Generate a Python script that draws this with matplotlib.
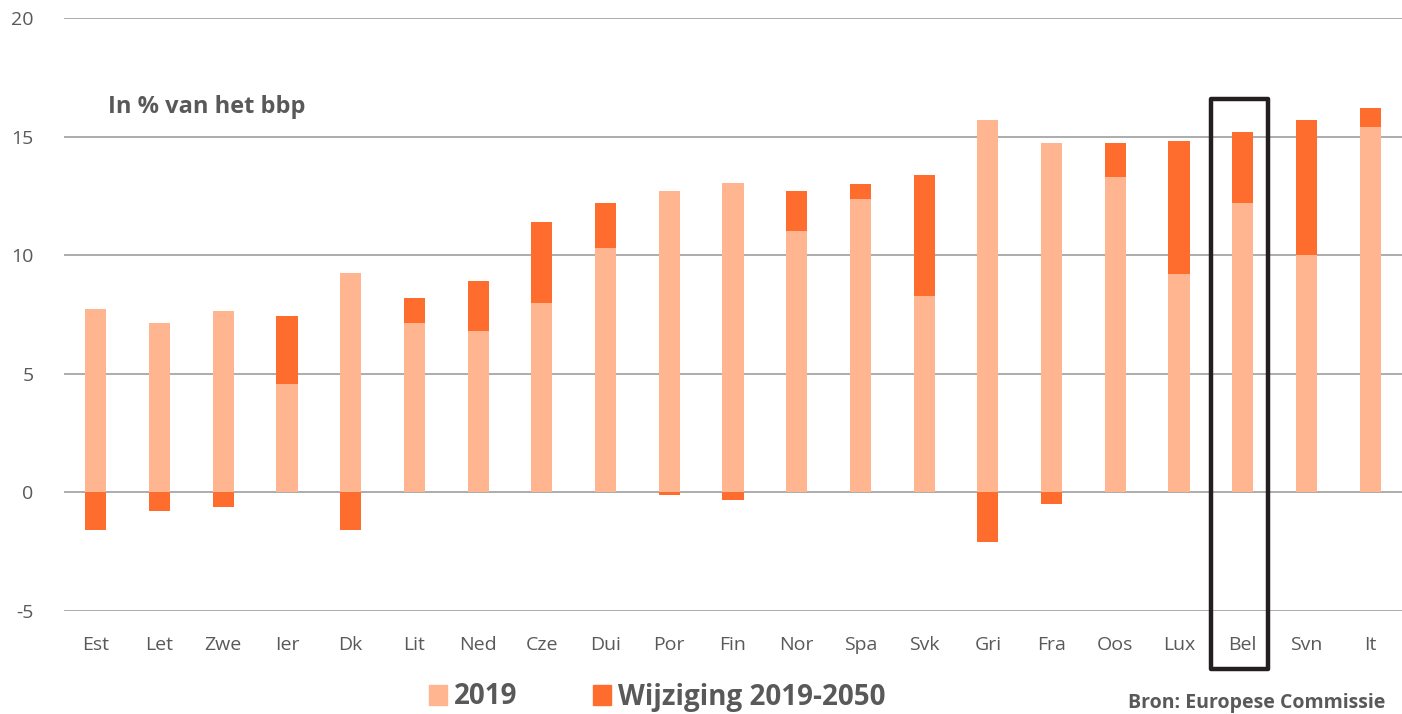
import matplotlib
matplotlib.use("Agg")
import matplotlib.pyplot as plt
from matplotlib.patches import Rectangle, Patch
import numpy as np

categories = ["Est", "Let", "Zwe", "Ier", "Dk", "Lit", "Ned", "Cze", "Dui", "Por", "Fin",
              "Nor", "Spa", "Svk", "Gri", "Fra", "Oos", "Lux", "Bel", "Svn", "It"]
val_2019 = [7.75, 7.15, 7.65, 4.55, 9.25, 7.15, 6.8, 8.0, 10.3, 12.7, 13.05,
            11.0, 12.35, 8.3, 15.7, 14.75, 13.3, 9.2, 12.2, 10.0, 15.4]
change_2019_2050 = [-1.6, -0.8, -0.6, 2.9, -1.6, 1.05, 2.1, 3.4, 1.9, -0.1, -0.3,
                    1.7, 0.65, 5.1, -2.1, -0.5, 1.45, 5.6, 3.0, 5.7, 0.8]
yticks = [-5, 0, 5, 10, 15, 20]

C_LIGHT = "#FFB690"
C_DARK = "#FF6D2E"
GREY = "#595959"
FONT = "Open Sans"

fig = plt.figure(figsize=(14.02, 7.14), dpi=100)
ax = fig.add_axes([64 / 1402, 1 - 611 / 714, (1402 - 64) / 1402, (611 - 18) / 714])

x = np.arange(len(categories))
v = np.array(val_2019)
c = np.array(change_2019_2050)
bottoms = np.where(c >= 0, v, 0.0)
w = 0.33
ax.bar(x, v, width=w, color=C_LIGHT, zorder=2)
ax.bar(x, c, width=w, bottom=bottoms, color=C_DARK, zorder=3)

ax.set_xlim(-0.5, len(categories) - 0.5)
ax.set_ylim(-5, 20)
ax.set_yticks(yticks)
ax.set_yticklabels([str(t) for t in yticks], fontsize=14, color=GREY, family=FONT)
ax.set_xticks(x)
ax.set_xticklabels(categories, fontsize=14, color=GREY, family=FONT)
ax.tick_params(axis="both", length=0)
ax.tick_params(axis="y", pad=22)
ax.tick_params(axis="x", pad=18)
for s in ax.spines.values():
    s.set_visible(False)
ax.yaxis.grid(True, color="#A6A6A6", linewidth=1.3, zorder=0)
ax.set_axisbelow(True)

fig.text(108 / 1402, 1 - 107 / 714, "In % van het bbp",
         fontsize=17, fontweight="bold", color=GREY, family=FONT, va="center", ha="left")

# highlight box around Belgium
bi = categories.index("Bel")
rect = Rectangle((bi - 0.5, -7.45), 0.9, 24.05, fill=False, edgecolor="#231F20",
                 linewidth=3.2, clip_on=False, zorder=5, joinstyle="round")
ax.add_patch(rect)

handles = [Patch(color=C_LIGHT, label="2019"), Patch(color=C_DARK, label="Wijziging 2019-2050")]
leg = fig.legend(handles=handles, loc="center left", bbox_to_anchor=(404 / 1402, 1 - 697 / 714),
                 ncol=2, frameon=False, handlelength=0.65, handleheight=0.7, handletextpad=0.25,
                 columnspacing=2.7, prop={"family": FONT, "weight": "bold", "size": 20})
for t in leg.get_texts():
    t.set_color(GREY)

fig.text(1385 / 1402, 1 - 713 / 714, "Bron: Europese Commissie", fontsize=14, fontweight="bold",
         color=GREY, family=FONT, ha="right", va="bottom")

fig.savefig("out.png", dpi=100)
